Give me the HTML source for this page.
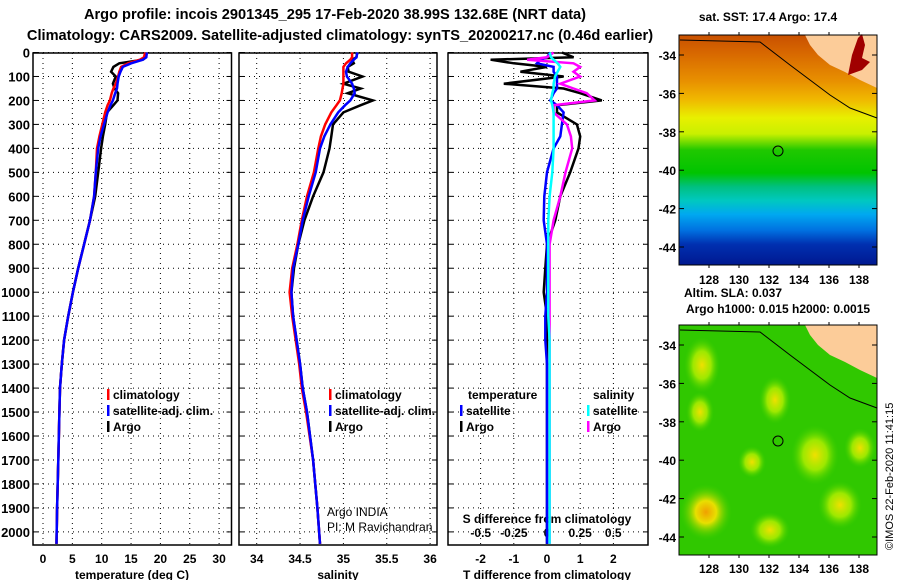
<!DOCTYPE html>
<html><head><meta charset="utf-8"><style>
body{margin:0;background:#fff;width:900px;height:580px;overflow:hidden;font-family:"Liberation Sans",sans-serif}
svg text{font-family:"Liberation Sans",sans-serif;font-weight:bold;fill:#000}
</style></head><body>
<svg id="c" width="900" height="580" viewBox="0 0 900 580" xmlns="http://www.w3.org/2000/svg">
<defs>
<linearGradient id="sstg" x1="0" y1="0" x2="0" y2="1">
<stop offset="0" stop-color="#c85000"/><stop offset="0.08" stop-color="#d86800"/><stop offset="0.2" stop-color="#e89000"/>
<stop offset="0.28" stop-color="#f0b800"/><stop offset="0.36" stop-color="#e8f000"/><stop offset="0.43" stop-color="#c8f000"/>
<stop offset="0.5" stop-color="#20c800"/><stop offset="0.6" stop-color="#00c400"/><stop offset="0.66" stop-color="#00c080"/>
<stop offset="0.72" stop-color="#00c8c0"/><stop offset="0.78" stop-color="#00a8f0"/><stop offset="0.85" stop-color="#0070e0"/>
<stop offset="0.91" stop-color="#0030b0"/><stop offset="1" stop-color="#001890"/></linearGradient>
<radialGradient id="blob"><stop offset="0" stop-color="#f0e000"/><stop offset="0.5" stop-color="#b8f000" stop-opacity="0.8"/><stop offset="1" stop-color="#40d000" stop-opacity="0"/></radialGradient>
<radialGradient id="blob2"><stop offset="0" stop-color="#f0a000"/><stop offset="0.4" stop-color="#e8e000"/><stop offset="1" stop-color="#40d000" stop-opacity="0"/></radialGradient>
</defs>
<text x="335" y="19" font-size="14.6" text-anchor="middle">Argo profile: incois 2901345_295 17-Feb-2020 38.99S 132.68E (NRT data)</text>
<text x="340" y="40" font-size="14.6" text-anchor="middle">Climatology: CARS2009. Satellite-adjusted climatology: synTS_20200217.nc (0.46d earlier)</text>
<g id="plots"></g>
<g>
<text x="768" y="21" font-size="12" text-anchor="middle">sat. SST: 17.4 Argo: 17.4</text>
<rect x="679" y="35" width="198" height="230" fill="url(#sstg)"/>
<path d="M805 35 L877 35 L877 88 L860 80 L845 72 L830 65 L818 55 L810 45 Z" fill="#fccc99"/>
<path d="M848 75 L852 55 L858 38 L862 34 L865 45 L862 58 L870 62 L862 70 Z" fill="#a00000"/>
<path d="M680 40 L760 42 L790 65 L830 95 L850 108 L877 118" fill="none" stroke="#000" stroke-width="1"/>
<circle cx="778" cy="151" r="5" fill="none" stroke="#000"/>
<rect x="679" y="35" width="198" height="230" fill="none" stroke="#000"/>
</g>
<g>
<text x="733" y="297" font-size="12" text-anchor="middle">Altim. SLA: 0.037</text>
<text x="778" y="313" font-size="12" text-anchor="middle">Argo h1000: 0.015 h2000: 0.0015</text>
<rect x="679" y="325" width="198" height="230" fill="#30c800"/>
<ellipse cx="702" cy="365" rx="18" ry="28" fill="url(#blob)"/>
<ellipse cx="775" cy="400" rx="16" ry="24" fill="url(#blob)"/>
<ellipse cx="700" cy="412" rx="14" ry="20" fill="url(#blob)"/>
<ellipse cx="815" cy="455" rx="24" ry="30" fill="url(#blob)"/>
<ellipse cx="860" cy="448" rx="16" ry="20" fill="url(#blob)"/>
<ellipse cx="752" cy="462" rx="14" ry="16" fill="url(#blob)"/>
<ellipse cx="706" cy="512" rx="26" ry="28" fill="url(#blob2)"/>
<ellipse cx="770" cy="530" rx="20" ry="18" fill="url(#blob)"/>
<ellipse cx="840" cy="505" rx="22" ry="24" fill="url(#blob)"/>
<path d="M805 325 L877 325 L877 378 L860 370 L845 362 L830 355 L818 345 L810 335 Z" fill="#fccc99"/>
<path d="M680 330 L760 332 L790 355 L830 385 L850 398 L877 408" fill="none" stroke="#000" stroke-width="1"/>
<circle cx="778" cy="441" r="5" fill="none" stroke="#000"/>
<rect x="679" y="325" width="198" height="230" fill="none" stroke="#000"/>
</g>
<g id="mapaxes"></g>
<text transform="translate(893,550) rotate(-90)" font-size="11" style="font-weight:normal">©IMOS 22-Feb-2020 11:41:15</text>
</svg>
<script>
const depth=[0,20,30,45,60,80,100,130,150,170,200,220,250,300,350,400,500,600,700,800,900,1000,1100,1200,1300,1400,1500,1700,1900,2050];
const tempArgo=[17.4,17.5,17.0,13.0,12.0,11.6,12.4,11.9,12.2,12.8,12.7,12.0,10.9,10.6,10.2,9.9,9.4,8.9,8.0,7.0,6.0,5.1,4.3,3.6,3.2,2.9,2.8,2.6,2.4,2.3];
const tempClim=[17.4,17.2,16.5,14.5,13.3,13.0,12.8,12.4,12.0,11.7,11.4,11.0,10.6,10.1,9.6,9.2,9.0,8.7,8.0,7.0,6.0,5.1,4.3,3.6,3.2,2.9,2.8,2.6,2.4,2.3];
const tempSat=[17.7,17.6,17.0,15.0,13.6,13.2,12.9,12.7,12.6,12.3,11.9,11.5,11.0,10.4,9.8,9.4,9.0,8.7,8.0,7.0,6.0,5.1,4.3,3.6,3.2,2.9,2.8,2.6,2.4,2.3];
const salArgo=[35.16,35.15,35.10,35.12,35.05,35.06,35.22,35.00,35.20,35.05,35.34,35.20,35.00,34.88,34.86,34.84,34.77,34.65,34.55,34.48,34.43,34.40,34.42,34.46,34.50,34.53,34.58,34.65,34.70,34.73];
const salClim=[35.10,35.10,35.08,35.03,35.00,35.00,35.00,35.00,34.99,34.98,34.96,34.92,34.86,34.79,34.74,34.71,34.66,34.58,34.52,34.47,34.41,34.38,34.41,34.45,34.49,34.52,34.57,34.65,34.70,34.73];
const salSat=[35.16,35.15,35.12,35.08,35.05,35.03,35.04,35.10,35.12,35.13,35.08,35.02,34.94,34.85,34.78,34.73,34.68,34.60,34.53,34.48,34.42,34.40,34.42,34.46,34.50,34.53,34.58,34.65,34.70,34.73];
const dTArgo=[0.45,0.8,-1.7,-1.0,0.0,-0.8,0.5,-1.3,0.5,1.0,1.65,0.3,0.3,0.9,1.0,0.95,0.7,0.4,0.25,0.0,-0.05,-0.1,0.0,0.0,0.0,0.0,0.0,0.0,0.0,0.0];
const dTSat=[0.1,0.0,-0.2,-0.3,0.2,0.2,0.3,0.3,0.3,0.2,0.1,0.3,0.5,0.45,0.4,0.2,0.0,-0.08,-0.1,0.0,0.0,0.0,-0.05,-0.05,0.0,0.0,0.0,0.0,0.0,0.0];
const dSArgo=[0.05,0.0,-0.15,0.2,0.25,0.2,0.25,0.1,0.2,0.3,0.36,0.05,0.05,0.15,0.18,0.19,0.14,0.1,0.05,0.02,0.02,0.02,0.02,0.02,0.02,0.02,0.02,0.02,0.02,0.02];
const dSSat=[0.02,0.03,0.05,0.08,0.1,0.08,0.06,0.05,0.05,0.04,0.03,0.04,0.05,0.05,0.05,0.05,0.04,0.02,0.01,0.01,0.01,0.01,0.01,0.02,0.02,0.02,0.02,0.02,0.02,0.02];
const depthTicks=[0,100,200,300,400,500,600,700,800,900,1000,1100,1200,1300,1400,1500,1600,1700,1800,1900,2000];
const tempTicks=[0,5,10,15,20,25,30];
const salTicks=[34,34.5,35,35.5,36];
const dTTicks=[-2,-1,0,1,2];
const dSTicks=[-0.5,-0.25,0,0.25,0.5];
const dSTickLabels=["-0.5","-0.25","0","0.25","0.5"];
const latTicks=[-34,-36,-38,-40,-42,-44];
const lonTicks=[128,130,132,134,136,138];

const NS="http://www.w3.org/2000/svg";
const g=document.getElementById('plots');
function mk(tag,at,parent){const e=document.createElementNS(NS,tag);for(const k in at)e.setAttribute(k,at[k]);(parent||g).appendChild(e);return e;}
const yD=d=>52.5+d*0.2397;
const xT=t=>43+t*5.87;
const xS=s=>256.7+(s-34)*86.7;
const xdT=t=>547+t*33.2;
const xdS=s=>547+s*132.5;
const PT=53,PB=545;
const panels=[{l:33,r:231.5,ticks:tempTicks,xf:xT,lab:tempTicks.map(String),name:'temperature'},
{l:239,r:437,ticks:salTicks,xf:xS,lab:salTicks.map(String),name:'salinity'},
{l:448,r:648,ticks:dTTicks,xf:xdT,lab:dTTicks.map(String),name:'difference'}];
panels.forEach(p=>{
 const fr=mk('rect',{x:p.l,y:PT,width:p.r-p.l,height:PB-PT,fill:'none',stroke:'#000','stroke-width':1.5});
 
 
 depthTicks.forEach(d=>{const l=mk('line',{x1:p.l,x2:p.r,y1:yD(d),y2:yD(d),stroke:'#000','stroke-dasharray':'1,4'});
  
  
  mk('line',{x1:p.l,x2:p.l+5,y1:yD(d),y2:yD(d),stroke:'#000'});mk('line',{x1:p.r-5,x2:p.r,y1:yD(d),y2:yD(d),stroke:'#000'});});
 p.ticks.forEach((t,i)=>{const x=p.xf(t);const l=mk('line',{x1:x,x2:x,y1:PT,y2:PB,stroke:'#000','stroke-dasharray':'1,4'});
  
  
  const tx=mk('text',{x:x,y:563,'font-size':12,'text-anchor':'middle'});tx.textContent=p.lab[i];
  
  });
});
depthTicks.forEach(d=>{const t=mk('text',{x:30,y:yD(d)+5,'font-size':13,'text-anchor':'end'});t.textContent=d;
 
 });
dSTicks.forEach((s,i)=>{const t=mk('text',{x:xdS(s),y:537,'font-size':12,'text-anchor':'middle'});t.textContent=dSTickLabels[i];
 
 });
[['temperature (deg C)',132],['salinity',338],['T difference from climatology',547]].forEach(a=>{
 const t=mk('text',{x:a[1],y:579,'font-size':12,'text-anchor':'middle'});t.textContent=a[0];
 
 });
const st=mk('text',{x:547,y:523,'font-size':12,'text-anchor':'middle'});st.textContent='S difference from climatology';


function line(vals,xf,color,name){const pts=vals.map((v,i)=>xf(v).toFixed(1)+','+yD(depth[i]).toFixed(1)).join(' ');
 const e=mk('polyline',{points:pts,fill:'none',stroke:color,'stroke-width':2.5});
 
 }
line(tempArgo,xT,'#000','temp-argo-line');line(tempClim,xT,'#f00','temp-clim-line');line(tempSat,xT,'#00f','temp-sat-line');
line(salArgo,xS,'#000','sal-argo-line');line(salClim,xS,'#f00','sal-clim-line');line(salSat,xS,'#00f','sal-sat-line');
line(dTArgo,xdT,'#000','dtemp-argo-line');line(dTSat,xdT,'#00f','dtemp-sat-line');
line(dSArgo,xdS,'#f0f','dsal-argo-line');line(dSSat,xdS,'#0ff','dsal-sat-line');
function leg(x,y,color,text,name){if(color){mk('rect',{x:x,y:y-10,width:2.5,height:11,fill:color});}
 const t=mk('text',{x:x+6,y:y,'font-size':12});t.textContent=text;
 
 }
leg(107,399,'#f00','climatology','legend-climatology');leg(107,415,'#00f','satellite-adj. clim.','legend-satellite');leg(107,431,'#000','Argo','legend-argo');
leg(329,399,'#f00','climatology','legend-climatology-2');leg(329,415,'#00f','satellite-adj. clim.','legend-satellite-2');leg(329,431,'#000','Argo','legend-argo-2');
leg(462,399,null,'temperature','legend-temperature-heading');leg(460,415,'#00f','satellite','legend-t-satellite');leg(460,431,'#000','Argo','legend-t-argo');
leg(587,399,null,'salinity','legend-salinity-heading');leg(587,415,'#0ff','satellite','legend-s-satellite');leg(587,431,'#f0f','Argo','legend-s-argo');
const c1=mk('text',{x:327,y:516,'font-size':12,style:'font-weight:normal'});c1.textContent='Argo INDIA';


const c2=mk('text',{x:327,y:531,'font-size':12,style:'font-weight:normal'});c2.textContent='PI: M Ravichandran';


const ma=document.getElementById('mapaxes');
[[35,265,283],[325,555,572]].forEach(m=>{
 const lat=v=>55+(-34-v)*19.2+(m[0]-35);
 latTicks.forEach(v=>{const y=lat(v);mk('line',{x1:679,x2:684,y1:y,y2:y,stroke:'#000'},ma);mk('line',{x1:877,x2:872,y1:y,y2:y,stroke:'#000'},ma);
  const t=mk('text',{x:676,y:y+5,'font-size':12,'text-anchor':'end'},ma);t.textContent=v;
  
  });
 lonTicks.forEach(v=>{const x=709+(v-128)*15;mk('line',{x1:x,x2:x,y1:m[0],y2:m[0]-3,stroke:'#000'},ma);mk('line',{x1:x,x2:x,y1:m[1],y2:m[1]+3,stroke:'#000'},ma);
  const t=mk('text',{x:x,y:m[2]+1,'font-size':12,'text-anchor':'middle'},ma);t.textContent=v;
  
  });
});
</script>
</body></html>
